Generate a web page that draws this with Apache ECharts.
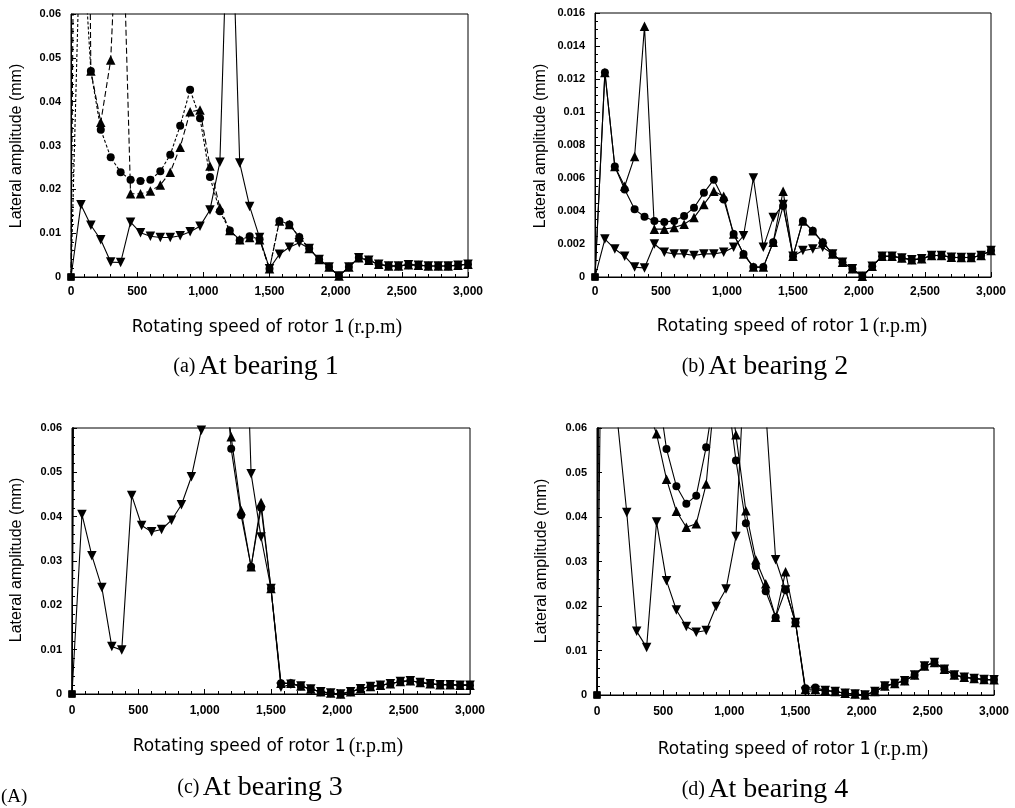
<!DOCTYPE html>
<html><head><meta charset="utf-8">
<script src="https://cdn.jsdelivr.net/npm/echarts@6/dist/echarts.min.js"></script>
<style>html,body{margin:0;padding:0;background:#fff}#c{width:1015px;height:808px}</style>
</head><body><div id="c"></div>
<script>
// Rotating speed of rotor 1 (r.p.m) – measurement points
const rpm = [0,75,150,225,300,375,450,525,600,675,750,825,900,975,1050,1125,1200,1275,1350,1425,1500,1575,1650,1725,1800,1875,1950,2025,2100,2175,2250,2325,2400,2475,2550,2625,2700,2775,2850,2925,3000];
const xTicks = ['0','500','1,000','1,500','2,000','2,500','3,000'];

// (a) At bearing 1  (values > 0.06 are off-scale estimates, clipped by the axis)
const a_circle = [0,0.085,0.047,0.0336,0.0273,0.0239,0.0222,0.0219,0.0222,0.0241,0.0279,0.0345,0.0427,0.0362,0.0228,0.0150,0.0106,0.0084,0.0093,0.0086,0.0019,0.0128,0.0120,0.0091,0.0065,0.0040,0.0023,0.0002,0.0023,0.0044,0.0038,0.0029,0.0025,0.0025,0.0028,0.0027,0.0025,0.0025,0.0025,0.0027,0.0029];
const a_up     = [0,0.30,0.047,0.0353,0.0495,0.10,0.0190,0.0190,0.0196,0.0210,0.0239,0.0296,0.0377,0.0381,0.0253,0.0158,0.0106,0.0085,0.0090,0.0085,0.0019,0.0128,0.0120,0.0091,0.0065,0.0040,0.0023,0.0002,0.0023,0.0044,0.0038,0.0029,0.0025,0.0025,0.0028,0.0027,0.0025,0.0025,0.0025,0.0027,0.0029];
const a_down   = [0,0.0165,0.0118,0.0085,0.0034,0.0033,0.0125,0.0101,0.0093,0.0090,0.0090,0.0094,0.0103,0.0116,0.0153,0.0262,0.10,0.0260,0.0161,0.0090,0.0019,0.0052,0.0068,0.0078,0.0065,0.0040,0.0023,0.0002,0.0023,0.0044,0.0038,0.0029,0.0025,0.0025,0.0028,0.0027,0.0025,0.0025,0.0025,0.0027,0.0029];

// (b) At bearing 2
const b_circle = [0,0.0124,0.0067,0.0053,0.0041,0.00365,0.0034,0.00334,0.0034,0.0037,0.0042,0.0051,0.0059,0.0047,0.0026,0.0014,0.0006,0.0006,0.0021,0.0043,0.00126,0.0034,0.0028,0.0021,0.0014,0.0009,0.0005,0.00004,0.00065,0.00126,0.00126,0.00115,0.00105,0.0011,0.0013,0.0013,0.0012,0.00118,0.00118,0.0013,0.0016];
const b_up     = [0,0.0124,0.0067,0.0055,0.0073,0.0152,0.0029,0.0029,0.0030,0.0032,0.0036,0.0044,0.0052,0.0049,0.0026,0.0014,0.0006,0.0006,0.0021,0.0052,0.00126,0.0034,0.0028,0.0021,0.0014,0.0009,0.0005,0.00004,0.00065,0.00126,0.00126,0.00115,0.00105,0.0011,0.0013,0.0013,0.0012,0.00118,0.00118,0.0013,0.0016];
const b_down   = [0,0.0023,0.0017,0.00126,0.0006,0.00055,0.0020,0.0015,0.0014,0.0014,0.0013,0.0014,0.0014,0.0015,0.0018,0.0025,0.0060,0.0018,0.0036,0.0044,0.00126,0.0016,0.0017,0.0018,0.0014,0.0009,0.0005,0.00004,0.00065,0.00126,0.00126,0.00115,0.00105,0.0011,0.0013,0.0013,0.0012,0.00118,0.00118,0.0013,0.0016];

// (c) At bearing 3
const c_circle = [0,0.5,0.3,0.2,0.15,0.13,0.12,0.11,0.11,0.12,0.13,0.16,0.2,0.25,0.15,0.085,0.0553,0.0403,0.0287,0.0420,0.0238,0.0024,0.0024,0.0018,0.0011,0.0005,0.0002,0.0000,0.0005,0.0012,0.0017,0.0020,0.0023,0.0028,0.0030,0.0026,0.0023,0.0021,0.0021,0.0020,0.0020];
const c_up     = [0,0.45,0.28,0.19,0.15,0.13,0.12,0.11,0.11,0.12,0.13,0.15,0.19,0.22,0.14,0.075,0.0580,0.0414,0.0287,0.0432,0.0238,0.0024,0.0024,0.0018,0.0011,0.0005,0.0002,0.0000,0.0005,0.0012,0.0017,0.0020,0.0023,0.0028,0.0030,0.0026,0.0023,0.0021,0.0021,0.0020,0.0020];
const c_down   = [0,0.0405,0.0312,0.0240,0.0107,0.0099,0.0448,0.0380,0.0366,0.0371,0.0392,0.0427,0.0490,0.0595,0.085,0.10,0.14,0.12,0.0497,0.0354,0.0238,0.0015,0.0022,0.0018,0.0011,0.0005,0.0002,0.0000,0.0005,0.0012,0.0017,0.0020,0.0023,0.0028,0.0030,0.0026,0.0023,0.0021,0.0021,0.0020,0.0020];

// (d) At bearing 4
const d_circle = [0,0.5,0.3,0.2,0.15,0.1,0.071,0.0553,0.0469,0.0430,0.0448,0.0557,0.07,0.07,0.0527,0.0386,0.0290,0.0233,0.0175,0.0236,0.0163,0.0015,0.0017,0.0010,0.0008,0.0004,0.0002,0.0000,0.0008,0.0020,0.0026,0.0032,0.0045,0.0065,0.0073,0.0058,0.0045,0.0040,0.0037,0.0035,0.0034];
const d_up     = [0,0.45,0.3,0.2,0.12,0.065,0.0587,0.0485,0.0413,0.0377,0.0385,0.0474,0.071,0.075,0.0585,0.0414,0.0304,0.0250,0.0175,0.0277,0.0163,0.0013,0.0013,0.0010,0.0008,0.0004,0.0002,0.0000,0.0008,0.0020,0.0026,0.0032,0.0045,0.0065,0.0073,0.0058,0.0045,0.0040,0.0037,0.0035,0.0034];
const d_down   = [0,0.2,0.063,0.0410,0.0143,0.0107,0.0389,0.0257,0.0191,0.0154,0.0141,0.0145,0.0199,0.0238,0.0356,0.08,0.15,0.064,0.0304,0.0236,0.0163,0.0008,0.0010,0.0010,0.0008,0.0004,0.0002,0.0000,0.0008,0.0020,0.0026,0.0032,0.0045,0.0065,0.0073,0.0058,0.0045,0.0040,0.0037,0.0035,0.0034];

const yMaxes = [0.06, 0.016, 0.06, 0.06];
const yIntervals = [0.01, 0.002, 0.01, 0.01];
const captions = [['(a)','At bearing 1'],['(b)','At bearing 2'],['(c)','At bearing 3'],['(d)','At bearing 4']];
const yTitle = 'Lateral amplitude (mm)';
const xTitleSans = 'Rotating speed of rotor 1';
const xTitleSerif = '(r.p.m)';

const panels = [
  {c:a_circle,u:a_up,d:a_down, dash:true},
  {c:b_circle,u:b_up,d:b_down, dash:false},
  {c:c_circle,u:c_up,d:c_down, dash:false},
  {c:d_circle,u:d_up,d:d_down, dash:false}
];

// layout (pixel geometry)
const grids = [
  {left:71, top:14, width:397, height:263},
  {left:595, top:13, width:396, height:264},
  {left:72, top:428, width:398, height:266},
  {left:597, top:428, width:397, height:267}
];
const yTitlePos = [[17,146],[541,146],[17,560],[542,561]];
const xTitlePos = [[267,328],[792,327],[268,747],[793,750]];
const capPos = [[256,367],[765,367],[260,788],[765,790]];

const sans = 'Liberation Sans, Arial, sans-serif';
const serif = 'Liberation Serif, Times New Roman, serif';

const option = {
  backgroundColor:'#fff',
  animation:false,
  grid: grids.map(g => Object.assign({show:true, borderColor:'#000', borderWidth:1, backgroundColor:'transparent', containLabel:false}, g)),
  xAxis: grids.map((g,i) => ({
    type:'value', gridIndex:i, min:0, max:3000, interval:500,
    axisLine:{show:true, onZero:false, lineStyle:{color:'#000', width:1}},
    axisTick:{show:true, inside:true, length:5, lineStyle:{color:'#000'}},
    minorTick:{show:true, splitNumber:5, length:3, lineStyle:{color:'#000'}},
    splitLine:{show:false},
    axisLabel:{margin: i<2 ? 9 : 11, color:'#000', fontFamily:sans, fontWeight:'bold', fontSize:12,
      formatter: v => xTicks[Math.round(v/500)]}
  })),
  yAxis: grids.map((g,i) => ({
    type:'value', gridIndex:i, min:0, max:yMaxes[i], interval:yIntervals[i],
    axisLine:{show:true, onZero:false, lineStyle:{color:'#000', width:1}},
    axisTick:{show:true, inside:true, length:5, lineStyle:{color:'#000'}},
    minorTick:{show:true, splitNumber: i===1 ? 4 : 5, length:3, lineStyle:{color:'#000'}},
    splitLine:{show:false},
    axisLabel:{margin:10, color:'#000', fontFamily:sans, fontWeight:'bold', fontSize:11,
      formatter: v => v===0 ? '0' : String(+v.toFixed(4))}
  })),
  series: [],
  graphic: []
};

const mk = {
  c:{symbol:'circle', symbolSize:8, symbolRotate:0},
  u:{symbol:'triangle', symbolSize:9.5, symbolRotate:0},
  d:{symbol:'triangle', symbolSize:9.5, symbolRotate:180}
};
panels.forEach((p,i) => {
  ['c','u','d'].forEach(k => {
    let lt = 'solid';
    if (p.dash && k==='c') lt = [3,2];
    if (p.dash && k==='u') lt = [6,3];
    option.series.push({
      type:'line', xAxisIndex:i, yAxisIndex:i, clip:true,
      symbol:mk[k].symbol, symbolSize:mk[k].symbolSize, symbolRotate:mk[k].symbolRotate,
      showSymbol:true, showAllSymbol:true,
      itemStyle:{color:'#000'},
      lineStyle:{color:'#000', width:1.1, type:lt},
      data: rpm.map((x,j) => j===0 ? {value:[x,p[k][j]], symbol:'rect', symbolSize:7, symbolRotate:0} : [x,p[k][j]])
    });
  });
  option.graphic.push({
    type:'text', x:yTitlePos[i][0], y:yTitlePos[i][1], rotation:Math.PI/2,
    style:{text:yTitle, font:'16px '+sans, fill:'#000', align:'center', verticalAlign:'middle'}
  });
  option.graphic.push({
    type:'text', x:xTitlePos[i][0], y:xTitlePos[i][1],
    style:{text:'{s|'+xTitleSans+'} {t|'+xTitleSerif+'}', align:'center', verticalAlign:'middle', fill:'#000',
      rich:{s:{fontFamily:'DejaVu Sans', fontSize:17, fill:'#000'}, t:{fontFamily:serif, fontSize:20, fill:'#000'}}}
  });
  option.graphic.push({
    type:'text', x:capPos[i][0], y:capPos[i][1],
    style:{text:'{p|'+captions[i][0]+'} {q|'+captions[i][1]+'}', align:'center', verticalAlign:'middle', fill:'#000',
      rich:{p:{fontFamily:serif, fontSize:20, fill:'#000'}, q:{fontFamily:serif, fontSize:28, fill:'#000'}}}
  });
});
option.graphic.push({
  type:'text', x:1, y:797,
  style:{text:'(A)', font:'19px '+serif, fill:'#000', align:'left', verticalAlign:'middle'}
});

const chart = echarts.init(document.getElementById('c'), null, {renderer:'canvas'});
chart.setOption(option);
</script>
</body></html>
